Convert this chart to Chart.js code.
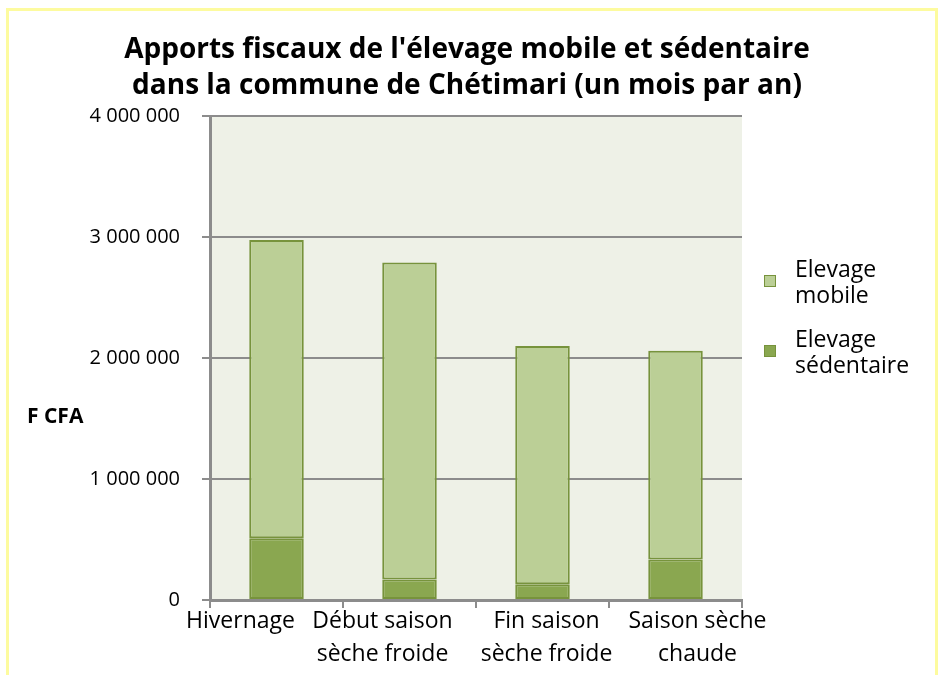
<!DOCTYPE html>
<html>
<head>
<meta charset="utf-8">
<script src="https://cdn.jsdelivr.net/npm/chart.js@4/dist/chart.umd.min.js"></script>
<style>
  body { margin: 0; background: #fff; font-family: "Open Sans", sans-serif; }
  #wrap { position: relative; width: 941px; height: 675px; overflow: hidden; }
  #frame { position: absolute; left: 6px; top: 8px; width: 926px; height: 700px;
           border: 3px solid #fdfb9f; border-bottom: none; }
  #chart-box { position: absolute; left: 0; top: 0; width: 941px; height: 675px; }
  #title { position: absolute; left: 67px; width: 800px; top: 29px; text-align: center;
           font-size: 28px; font-weight: bold; line-height: 36px; color: #000; }
  #legend { position: absolute; left: 764px; top: 255px; font-size: 23px; line-height: 26px; color: #000; }
  .item { display: flex; align-items: center; margin-bottom: 18px; }
  .swatch { width: 10px; height: 10px; border: 1px solid #77933c; margin-right: 19px; }
  #yunit { position: absolute; left: 27px; top: 401px; font-size: 21px; font-weight: bold; }
</style>
</head>
<body>
<div id="wrap">
  <div id="frame"></div>
  <div id="chart-box"><canvas id="fiscal-chart"></canvas></div>
  <div id="title"></div>
  <div id="legend"></div>
  <div id="yunit">F CFA</div>
</div>
<script>
const categories = [["Hivernage"], ["Début saison", "sèche froide"], ["Fin saison", "sèche froide"], ["Saison sèche", "chaude"]];
const sedentaireValues = [510000, 170000, 130000, 335000];
const mobileValues = [2465000, 2620000, 1970000, 1725000];
const yTicks = [0, 1000000, 2000000, 3000000, 4000000];
const titleLines = ["Apports fiscaux de l'élevage mobile et sédentaire", "dans la commune de Chétimari (un mois par an)"];

const mobileColor = "#bbcf96";
const sedentaireColor = "#8aa750";
const barBorder = "#77933c";
const gridGrey = "#8c8c8c";
// excel nudges the category labels sideways so they don't collide
const labelShift = [-36, -27, 4, 22];

document.getElementById("title").innerHTML = titleLines.join("<br>");

function formatNumber(value) {
    return String(value).replace(/\B(?=(\d{3})+(?!\d))/g, " ");
}

const plotBackground = {
    id: "plotBackground",
    beforeDraw(chart) {
        const area = chart.chartArea;
        const ctx = chart.ctx;
        ctx.save();
        ctx.fillStyle = "#eef1e7";
        ctx.fillRect(area.left, area.top, area.right - area.left, area.bottom - area.top);
        ctx.restore();
    }
};

const categoryLabels = {
    id: "categoryLabels",
    afterDraw(chart) {
        const xScale = chart.scales.x;
        const ctx = chart.ctx;
        ctx.save();
        ctx.fillStyle = "#000";
        ctx.font = "23px 'Open Sans', sans-serif";
        ctx.textAlign = "center";
        ctx.textBaseline = "middle";
        categories.forEach((lines, i) => {
            const x = xScale.getPixelForTick(i) + labelShift[i];
            lines.forEach((line, j) => {
                ctx.fillText(line, x, xScale.top + 21 + j * 33);
            });
        });
        ctx.restore();
    }
};

const datasets = [
    {
        label: "Elevage sédentaire",
        data: sedentaireValues,
        backgroundColor: sedentaireColor,
        borderColor: barBorder,
        borderWidth: 2,
        borderSkipped: false,
        barPercentage: 0.41,
        categoryPercentage: 1
    },
    {
        label: "Elevage mobile",
        data: mobileValues,
        backgroundColor: mobileColor,
        borderColor: barBorder,
        borderWidth: 2,
        borderSkipped: false,
        barPercentage: 0.41,
        categoryPercentage: 1
    }
];

// legend drawn in html so the labels can wrap like the original
const legendItems = [
    { lines: ["Elevage", "mobile"], color: mobileColor },
    { lines: ["Elevage", "sédentaire"], color: sedentaireColor }
];
const legendBox = document.getElementById("legend");
legendItems.forEach(item => {
    const row = document.createElement("div");
    row.className = "item";
    const swatch = document.createElement("div");
    swatch.className = "swatch";
    swatch.style.background = item.color;
    const text = document.createElement("div");
    text.innerHTML = item.lines.join("<br>");
    row.appendChild(swatch);
    row.appendChild(text);
    legendBox.appendChild(row);
});

new Chart(document.getElementById("fiscal-chart"), {
    type: "bar",
    data: {
        labels: categories,
        datasets: datasets
    },
    plugins: [plotBackground, categoryLabels],
    options: {
        responsive: true,
        maintainAspectRatio: false,
        animation: false,
        layout: { padding: { left: 10, right: 199, top: 116, bottom: 0 } },
        plugins: {
            legend: { display: false },
            tooltip: { enabled: false },
            title: { display: false }
        },
        scales: {
            x: {
                stacked: true,
                grid: {
                    display: true,
                    drawOnChartArea: false,
                    drawTicks: true,
                    tickLength: 8,
                    color: gridGrey,
                    lineWidth: 2
                },
                border: { display: true, color: gridGrey, width: 3 },
                ticks: { display: false },
                afterFit(scale) { scale.height = 75; }
            },
            y: {
                stacked: true,
                min: 0,
                max: 4000000,
                afterBuildTicks(scale) {
                    scale.ticks = yTicks.map(v => ({ value: v }));
                },
                grid: {
                    color: gridGrey,
                    lineWidth: 2,
                    tickLength: 8
                },
                border: { display: true, color: gridGrey, width: 3 },
                ticks: {
                    color: "#000",
                    padding: 22,
                    font: { family: "'Open Sans', sans-serif", size: 20 },
                    callback: value => formatNumber(value)
                },
                afterFit(scale) { scale.width = 200; }
            }
        }
    }
});
</script>
</body>
</html>
